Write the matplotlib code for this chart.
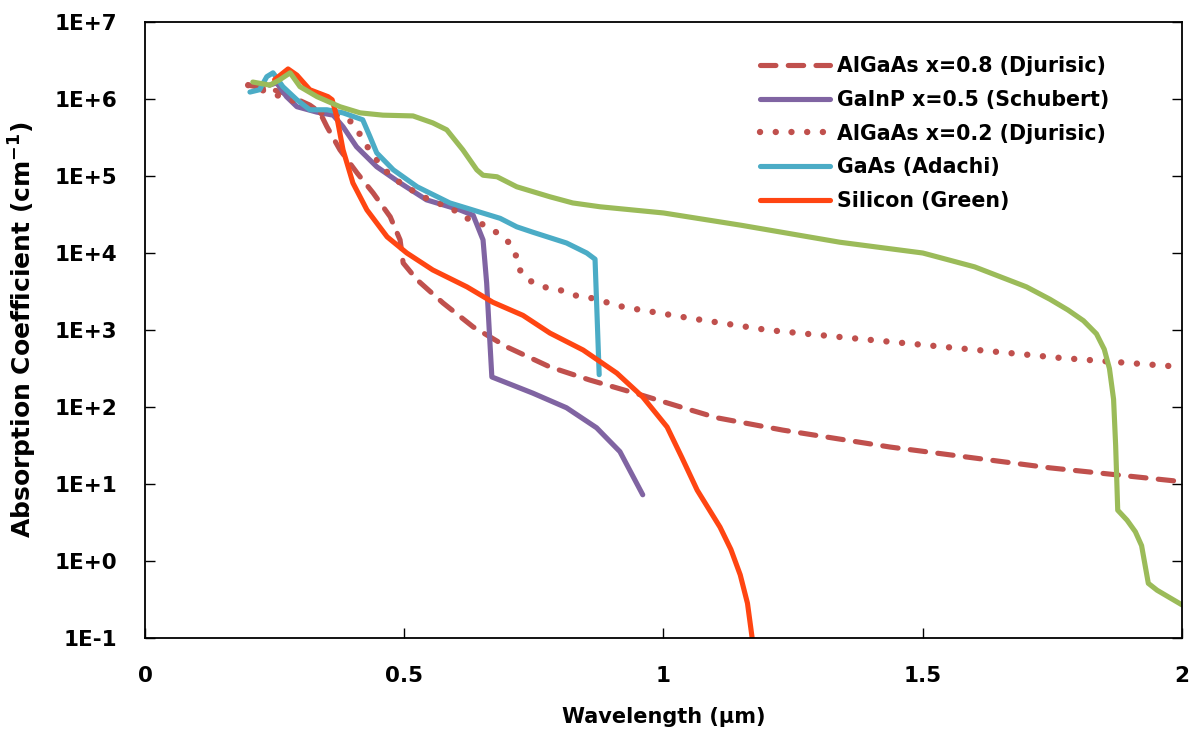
import matplotlib
matplotlib.use("Agg")
import matplotlib.pyplot as plt
import numpy as np

plt.rcParams['font.family'] = ['DejaVu Sans']
plt.rcParams['font.weight'] = 'bold'
plt.rcParams['mathtext.default'] = 'bf'

# wavelength (um) and log10(absorption coefficient, cm-1)
algaas08_wl = [0.199, 0.26, 0.318, 0.337, 0.351, 0.376, 0.409, 0.44, 0.473, 0.492, 0.498,
               0.525, 0.575, 0.633, 0.698, 0.781, 0.858, 0.955, 1.038, 1.103, 1.23, 1.437,
               1.745, 2.0]
algaas08_lg = [6.18, 6.1, 5.92, 5.83, 5.64, 5.34, 5.04, 4.78, 4.47, 4.17, 3.87,
               3.65, 3.35, 3.04, 2.78, 2.52, 2.35, 2.16, 1.99, 1.86, 1.70, 1.48,
               1.21, 1.03]

gainp_wl = [0.24, 0.254, 0.273, 0.293, 0.331, 0.363, 0.382, 0.408, 0.447, 0.492, 0.543,
            0.607, 0.633, 0.652, 0.659, 0.665, 0.669, 0.748, 0.813, 0.871, 0.916, 0.96]
gainp_lg = [6.18, 6.21, 6.03, 5.90, 5.83, 5.79, 5.64, 5.38, 5.12, 4.91, 4.69,
            4.56, 4.49, 4.17, 3.61, 2.87, 2.39, 2.18, 1.99, 1.73, 1.42, 0.86]

algaas02_wl = [0.199, 0.28, 0.312, 0.337, 0.382, 0.405, 0.42, 0.437, 0.457, 0.479, 0.505,
               0.53, 0.563, 0.588, 0.613, 0.646, 0.671, 0.698, 0.714, 0.723, 0.739, 0.768,
               0.8, 0.829, 0.858, 0.922, 1.045, 1.2, 1.354, 1.70, 1.761, 2.0]
algaas02_lg = [6.18, 5.99, 5.92, 5.82, 5.79, 5.66, 5.47, 5.30, 5.12, 4.97, 4.86,
               4.75, 4.65, 4.60, 4.47, 4.39, 4.30, 4.17, 4.0, 3.78, 3.65, 3.56,
               3.52, 3.45, 3.42, 3.30, 3.16, 3.0, 2.90, 2.68, 2.64, 2.52]

gaas_wl = [0.2025, 0.221, 0.235, 0.247, 0.266, 0.293, 0.318, 0.351, 0.382, 0.42, 0.434,
           0.447, 0.479, 0.525, 0.588, 0.685, 0.717, 0.748, 0.813, 0.852, 0.868, 0.876]
gaas_lg = [6.09, 6.12, 6.29, 6.34, 6.16, 5.99, 5.86, 5.86, 5.82, 5.73, 5.51,
           5.30, 5.08, 4.86, 4.65, 4.45, 4.34, 4.27, 4.13, 4.0, 3.92, 2.42]

si_wl = [0.25, 0.276, 0.293, 0.318, 0.353, 0.361, 0.37, 0.382, 0.401, 0.428, 0.467,
         0.505, 0.555, 0.621, 0.671, 0.729, 0.781, 0.845, 0.91, 0.96, 1.007, 1.035,
         1.065, 1.109, 1.13, 1.148, 1.162, 1.171]
si_lg = [6.25, 6.39, 6.31, 6.12, 6.03, 5.99, 5.77, 5.34, 4.91, 4.56, 4.21,
         4.0, 3.78, 3.56, 3.36, 3.19, 2.96, 2.74, 2.44, 2.13, 1.74, 1.35,
         0.92, 0.44, 0.15, -0.18, -0.55, -1.0]

ge_wl = [0.208, 0.241, 0.26, 0.28, 0.299, 0.332, 0.376, 0.415, 0.459, 0.517, 0.555,
         0.582, 0.613, 0.64, 0.652, 0.679, 0.717, 0.781, 0.825, 0.878, 1.0, 1.15,
         1.34, 1.5, 1.6, 1.7, 1.745, 1.78, 1.81, 1.835, 1.85, 1.86, 1.868, 1.872,
         1.876, 1.894, 1.91, 1.922, 1.935, 1.952, 2.0]
ge_lg = [6.22, 6.18, 6.25, 6.34, 6.16, 6.03, 5.90, 5.82, 5.79, 5.78, 5.69,
         5.60, 5.34, 5.08, 5.01, 4.99, 4.86, 4.73, 4.65, 4.60, 4.52, 4.36,
         4.14, 4.0, 3.82, 3.56, 3.40, 3.26, 3.12, 2.95, 2.75, 2.5, 2.1, 1.5,
         0.66, 0.53, 0.38, 0.2, -0.29, -0.38, -0.57]

red = '#C0504D'
purple = '#8064A2'
cyan = '#4BACC6'
orange = '#FF4512'
green = '#9BBB59'

fig = plt.figure(figsize=(11.93, 7.38), dpi=100)
ax = fig.add_axes([0.1215, 0.1355, 0.8693, 0.8347])

lw = 3.7
ax.plot(algaas08_wl, 10 ** np.array(algaas08_lg), color=red, lw=lw, ls=(0, (3.0, 2.4)),
        dash_capstyle='round', label='AlGaAs x=0.8 (Djurisic)')
ax.plot(gainp_wl, 10 ** np.array(gainp_lg), color=purple, lw=lw,
        solid_capstyle='round', label='GaInP x=0.5 (Schubert)')
ax.plot(algaas02_wl, 10 ** np.array(algaas02_lg), color=red, lw=4.6, ls=(0, (0.01, 2.45)),
        dash_capstyle='round', label='AlGaAs x=0.2 (Djurisic)')
ax.plot(gaas_wl, 10 ** np.array(gaas_lg), color=cyan, lw=lw,
        solid_capstyle='round', label='GaAs (Adachi)')
ax.plot(si_wl, 10 ** np.array(si_lg), color=orange, lw=lw,
        solid_capstyle='round', label='Silicon (Green)')
ax.plot(ge_wl, 10 ** np.array(ge_lg), color=green, lw=lw, solid_capstyle='round')

ax.set_yscale('log')
ax.set_xlim(0, 2)
ax.set_ylim(0.1, 1e7)
ax.set_xticks([0, 0.5, 1, 1.5, 2])
ax.set_xticklabels(['0', '0.5', '1', '1.5', '2'])
yt = [1e-1, 1, 10, 1e2, 1e3, 1e4, 1e5, 1e6, 1e7]
ax.set_yticks(yt)
ax.set_yticklabels(['1E-1', '1E+0', '1E+1', '1E+2', '1E+3', '1E+4', '1E+5', '1E+6', '1E+7'])
ax.yaxis.set_minor_locator(matplotlib.ticker.NullLocator())

ax.tick_params(axis='y', which='major', direction='in', length=7, width=1,
               labelsize=15.5, pad=20, right=True)
ax.tick_params(axis='x', which='major', direction='in', length=7, width=1,
               labelsize=15.5, pad=20)
for s in ax.spines.values():
    s.set_linewidth(1.3)

ax.set_xlabel('Wavelength (µm)', fontsize=15, fontweight='bold', labelpad=15)
ax.set_ylabel('Absorption Coefficient (cm$^{-1}$)', fontsize=18, fontweight='bold', labelpad=11)

leg = ax.legend(loc='upper left', bbox_to_anchor=(0.593, 0.944), frameon=False, fontsize=14.8,
                handlelength=3.4, handletextpad=0.35, labelspacing=0.66,
                borderaxespad=0, borderpad=0)

fig.savefig('out.png', dpi=100)
